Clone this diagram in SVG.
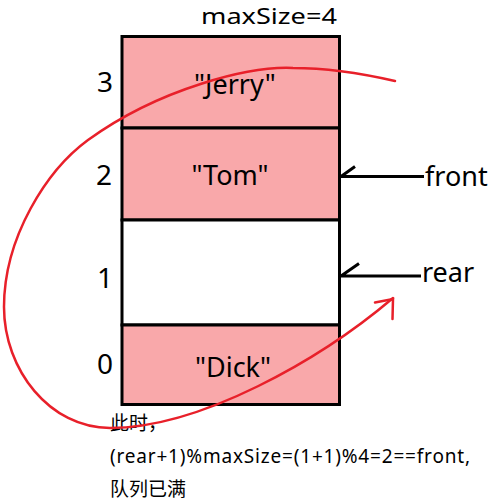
<svg xmlns="http://www.w3.org/2000/svg" width="496" height="504" viewBox="0 0 496 504">
<style>
.cell{stroke:#000;stroke-width:3}
.full{fill:#F9A8AA}
.empty{fill:#fff}
.t{font-family:"Noto Sans","Liberation Sans",sans-serif;fill:#000}
.big{font-size:27px}
.idx{font-size:28px}
.note{font-family:"Noto Sans","Noto Sans CJK SC",sans-serif;font-size:19px;fill:#000}
.ptr{stroke:#000;stroke-width:3;fill:none}
.red{stroke:#E8202A;stroke-width:2.5;fill:none;stroke-linecap:round}
</style>
<rect width="496" height="504" fill="#fff"/>
<text class="t" x="269" y="24" font-size="22" text-anchor="middle" textLength="136" lengthAdjust="spacingAndGlyphs">maxSize=4</text>
<g id="cell3">
<rect class="cell full" x="122" y="36.5" width="217.5" height="91.5"/>
<text class="t big" x="235" y="94" text-anchor="middle">"Jerry"</text>
<text class="t idx" x="105" y="92" text-anchor="middle">3</text>
</g>
<g id="cell2">
<rect class="cell full" x="122" y="128" width="217.5" height="92"/>
<text class="t big" x="230" y="185" text-anchor="middle">"Tom"</text>
<text class="t idx" x="104" y="185" text-anchor="middle">2</text>
</g>
<g id="cell1">
<rect class="cell empty" x="122" y="220" width="217.5" height="105"/>
<text class="t idx" x="105" y="288" text-anchor="middle">1</text>
</g>
<g id="cell0">
<rect class="cell full" x="122" y="325" width="217.5" height="79.5"/>
<text class="t big" x="233" y="377" text-anchor="middle">"Dick"</text>
<text class="t idx" x="105" y="374" text-anchor="middle">0</text>
</g>
<g id="front">
<text class="t big" x="425" y="186">front</text>
</g>
<g id="rear">
<text class="t big" x="422" y="282">rear</text>
</g>
<g id="note">
<text class="note" x="110" y="430">此时，</text>
<text class="note" x="110" y="463" font-size="20" textLength="360" lengthAdjust="spacing">(rear+1)%maxSize=(1+1)%4=2==front,</text>
<text class="note" x="110" y="496">队列已满</text>
</g>
<g id="connectors">
<path class="ptr" d="M341,176.5 H424 M341,176.5 L355,166.5"/>
<path class="ptr" d="M341,276 H421 M341,276 L359,263.5"/>
<path class="red" d="M395,81 C360,73 325,68 293,68 C250,66 160,88 88,140 C47,170 4,237 4,307 C4,370 50,428 110,428 C200,428 320,360 393,298"/>
<path class="red" d="M375,302.5 L393,299 L392.5,319"/>
</g>
</svg>
